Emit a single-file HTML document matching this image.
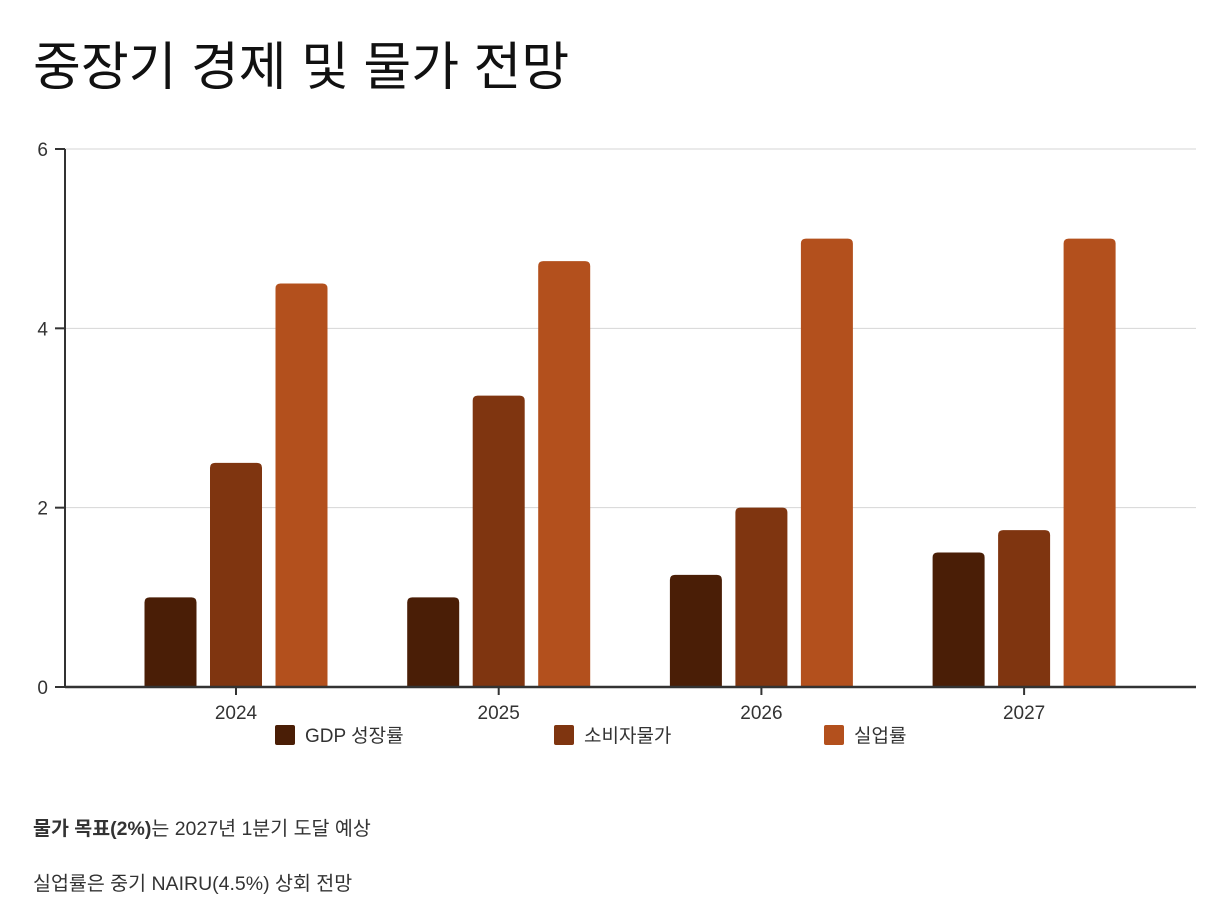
<!DOCTYPE html>
<html><head><meta charset="utf-8"><style>
body{margin:0;background:#fff;width:1223px;height:897px;overflow:hidden;font-family:"Liberation Sans","Noto Sans CJK KR",sans-serif;color:#333;position:relative}
.t{position:absolute;white-space:nowrap}
</style></head><body>
<div class="t" style="left:33px;top:25px;font-size:52px;color:#111;">중장기 경제 및 물가 전망</div>
<svg id="c" width="1223" height="760" style="position:absolute;left:0;top:0"></svg>
<div class="t" style="left:33px;top:812px;font-size:19.5px"><b>물가 목표(2%)</b>는 2027년 1분기 도달 예상</div>
<div class="t" style="left:33px;top:867px;font-size:19.5px">실업률은 중기 NAIRU(4.5%) 상회 전망</div>
<script>
const categories=["2024","2025","2026","2027"];
const gdp=[1.0,1.0,1.25,1.5];
const cpi=[2.5,3.25,2.0,1.75];
const unemp=[4.5,4.75,5.0,5.0];
const yTicks=[0,2,4,6];
const seriesNames=["GDP 성장률","소비자물가","실업률"];
const colors=["#4a1e06","#7f3510","#b3501d"];
const NS="http://www.w3.org/2000/svg";
const svg=document.getElementById('c');
const x0=65,x1=1196,yb=687,yt=149,ymax=6;
const y=v=>yb-(v/ymax)*(yb-yt);
const step=262.7;
const cx=i=>x0+171+step*i;
function mk(t,a){const e=document.createElementNS(NS,t);for(const k in a)e.setAttribute(k,a[k]);svg.appendChild(e);return e;}
yTicks.forEach(v=>{
  if(v>0){const g=mk('line',{x1:x0,x2:x1,y1:y(v),y2:y(v),stroke:'#d6d6d6','stroke-width':1});
  
  }
  const tk=mk('line',{x1:55,x2:x0,y1:y(v),y2:y(v),stroke:'#333','stroke-width':2});
  
  
  const tx=mk('text',{x:48,y:y(v)+7,'text-anchor':'end','font-size':19,fill:'#333'});
  tx.textContent=v;
  
  
});
const series=[gdp,cpi,unemp];
const bw=52,off=65.5;
categories.forEach((c,i)=>{
  series.forEach((s,j)=>{
    const bx=cx(i)+(j-1)*off-bw/2, top=y(s[i]), r=5;
    const p=mk('path',{d:`M${bx},${yb}V${top+r}Q${bx},${top} ${bx+r},${top}H${bx+bw-r}Q${bx+bw},${top} ${bx+bw},${top+r}V${yb}Z`,fill:colors[j]});
    
    
  });
  const tk=mk('line',{x1:cx(i),x2:cx(i),y1:yb,y2:yb+8,stroke:'#333','stroke-width':2});
  
  
  const tx=mk('text',{x:cx(i),y:yb+32,'text-anchor':'middle','font-size':19,fill:'#333'});
  tx.textContent=c;
  
  
});
const ax=mk('line',{x1:x0,x2:x0,y1:yt,y2:yb,stroke:'#333','stroke-width':2});


const bx=mk('line',{x1:x0,x2:x1,y1:yb,y2:yb,stroke:'#333','stroke-width':2.5});


const lx=[275,554,824];
seriesNames.forEach((n,j)=>{
  const r=mk('rect',{x:lx[j],y:725,width:20,height:20,rx:2,fill:colors[j]});
  
  
  const t=mk('text',{x:lx[j]+30,y:742,'font-size':19,fill:'#333'});
  t.textContent=n;
  
  
});
</script>
</body></html>
